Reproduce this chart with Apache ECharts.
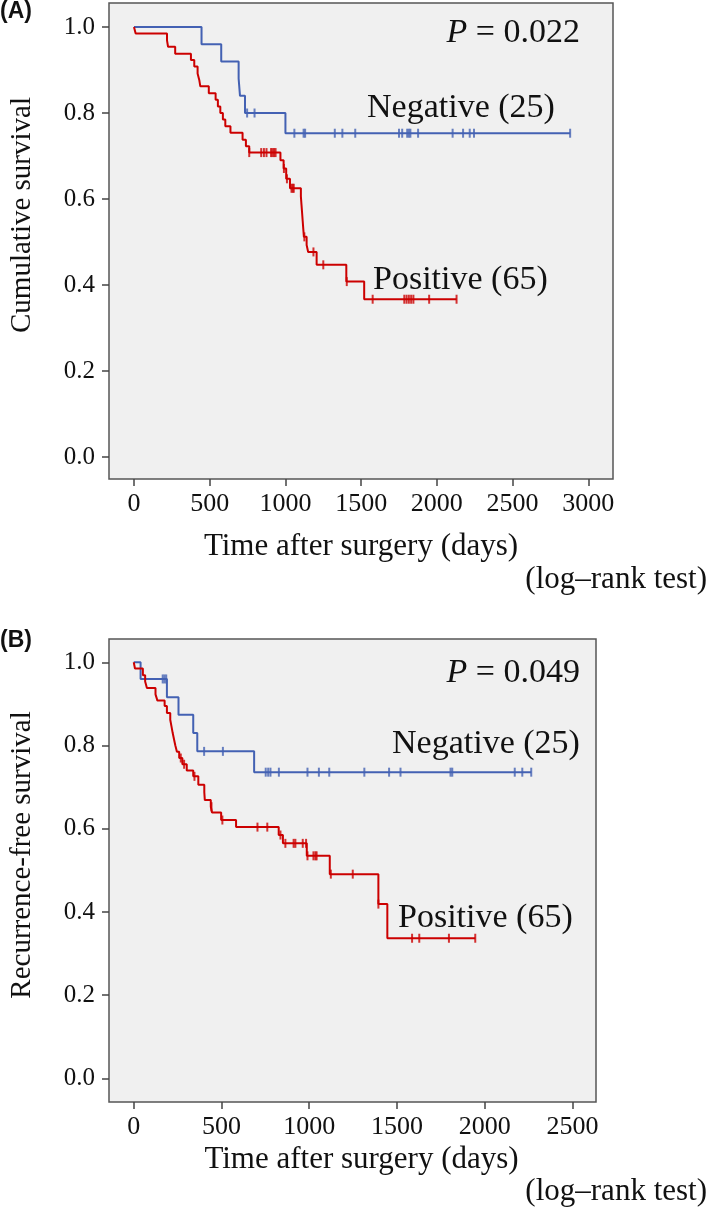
<!DOCTYPE html>
<html><head><meta charset="utf-8">
<script src="https://cdn.jsdelivr.net/npm/echarts@6/dist/echarts.min.js"></script>
<style>html,body{margin:0;padding:0;background:#fff}#c{width:709px;height:1217px}</style>
</head><body><div id="c"></div>
<script>
// ---------- Panel A: cumulative survival ----------
const aNegEventDays = [0, 446, 576, 691, 700, 733, 1000];
const aNegEventSurv = [1.0, 0.960, 0.920, 0.880, 0.840, 0.800, 0.753];
const aNegCensorDays = [747, 796, 1059, 1120, 1130, 1326, 1376, 1461, 1750, 1771, 1804, 1815, 1825, 1876, 2104, 2173, 2217, 2245, 2880];

const aPosEventDays = [0, 11, 218, 225, 272, 376, 398, 420, 431, 438, 494, 539, 554, 570, 587, 603, 637, 717, 739, 761, 967, 988, 1005, 1030, 1102, 1106, 1110, 1114, 1118, 1122, 1140, 1150, 1206, 1402, 1520];
const aPosEventSurv = [1.0, 0.985, 0.969, 0.954, 0.938, 0.923, 0.908, 0.892, 0.877, 0.862, 0.846, 0.831, 0.815, 0.800, 0.785, 0.769, 0.754, 0.738, 0.723, 0.708, 0.690, 0.671, 0.647, 0.625, 0.606, 0.587, 0.568, 0.549, 0.530, 0.512, 0.493, 0.477, 0.447, 0.408, 0.367];
const aPosCensorDays = [761, 840, 858, 875, 905, 915, 925, 935, 990, 1010, 1040, 1048, 1055, 1125, 1185, 1250, 1405, 1576, 1785, 1800, 1815, 1830, 1845, 1949, 2130];

// ---------- Panel B: recurrence-free survival ----------
const bNegEventDays = [0, 39, 189, 255, 339, 362, 686];
const bNegEventSurv = [1.0, 0.960, 0.916, 0.874, 0.830, 0.786, 0.736];
const bNegCensorDays = [165, 175, 185, 401, 508, 752, 766, 779, 827, 990, 1055, 1114, 1314, 1455, 1520, 1805, 1815, 2171, 2214, 2265];

const bPosEventDays = [0, 7, 52, 65, 75, 124, 135, 176, 189, 208, 215, 222, 230, 237, 246, 259, 277, 302, 339, 368, 402, 405, 439, 446, 498, 583, 826, 850, 986, 1117, 1394, 1445];
const bPosEventSurv = [1.0, 0.985, 0.969, 0.954, 0.938, 0.923, 0.908, 0.895, 0.878, 0.862, 0.846, 0.830, 0.814, 0.800, 0.785, 0.770, 0.755, 0.740, 0.726, 0.706, 0.688, 0.669, 0.653, 0.639, 0.621, 0.604, 0.585, 0.565, 0.535, 0.491, 0.419, 0.337];
const bPosCensorDays = [268, 287, 346, 443, 505, 705, 761, 836, 864, 911, 921, 963, 982, 990, 1024, 1035, 1042, 1123, 1248, 1394, 1586, 1627, 1796, 1946];

// ---------- axes ----------
const xTicksA = [0, 500, 1000, 1500, 2000, 2500, 3000];
const xTicksB = [0, 500, 1000, 1500, 2000, 2500];
const yTicks = [0, 0.2, 0.4, 0.6, 0.8, 1.0];

const groupLabels = ['Negative (25)', 'Positive (65)'];
const pValues = ['0.022', '0.049'];
const yTitles = ['Cumulative survival', 'Recurrence-free survival'];
const xTitle = 'Time after surgery (days)';

const BLUE = '#4361b3', RED = '#cc0000';
const SERIF = "'Liberation Serif', 'Times New Roman', serif";

function survAt(days, surv, t) {
  let s = surv[0];
  for (let i = 0; i < days.length; i++) if (days[i] <= t) s = surv[i];
  return s;
}
function stepLine(days, surv, cens) {
  const d = days.map((t, i) => [t, surv[i]]);
  const end = Math.max(days[days.length - 1], ...cens);
  d.push([end, survAt(days, surv, end)]);
  return d;
}
function censorPts(days, surv, cens) {
  return cens.map(t => [t, survAt(days, surv, t)]);
}

function lineSeries(idx, days, surv, cens, color) {
  return [{
    type: 'line', xAxisIndex: idx, yAxisIndex: idx, step: 'end', showSymbol: false,
    data: stepLine(days, surv, cens), lineStyle: { color, width: 2 }, silent: true, animation: false
  }, {
    type: 'scatter', xAxisIndex: idx, yAxisIndex: idx, symbol: 'rect', symbolSize: [2, 9],
    data: censorPts(days, surv, cens), itemStyle: { color }, silent: true, animation: false
  }];
}

function xAxis(idx, min, max, ticks, gap, pad) {
  return {
    gridIndex: idx, type: 'value', min, max,
    axisLine: { show: false, onZero: false }, splitLine: { show: false },
    axisTick: { show: true, customValues: ticks, length: 7, lineStyle: { color: '#444', width: 1.5 } },
    axisLabel: { customValues: ticks, formatter: v => String(v), fontFamily: SERIF, fontSize: 26, color: '#111', margin: 12 },
    name: xTitle, nameLocation: 'middle', nameGap: gap,
    nameTextStyle: { fontFamily: SERIF, fontSize: 31, color: '#111', padding: pad }
  };
}
function yAxis(idx, min, max, title, pad) {
  return {
    gridIndex: idx, type: 'value', min, max,
    axisLine: { show: false, onZero: false }, splitLine: { show: false },
    axisTick: { show: true, customValues: yTicks, length: 7, lineStyle: { color: '#444', width: 1.5 } },
    axisLabel: { customValues: yTicks, formatter: v => v.toFixed(1), fontFamily: SERIF, fontSize: 25, color: '#111', margin: 14 },
    name: title, nameLocation: 'middle', nameGap: 72,
    nameTextStyle: { fontFamily: SERIF, fontSize: 29, color: '#111', padding: pad }
  };
}

function txt(x, y, text, size, align, extra) {
  return {
    type: 'text', x, y, silent: true,
    style: Object.assign({ text, fontFamily: SERIF, fontSize: size, fill: '#111', align, verticalAlign: 'middle' }, extra || {})
  };
}
function pText(x, y, val) {
  return {
    type: 'text', x, y, silent: true,
    style: {
      text: '{i|P} = ' + val, fontFamily: SERIF, fontSize: 34, fill: '#111', align: 'right', verticalAlign: 'middle',
      rich: { i: { fontStyle: 'italic', fontFamily: SERIF, fontSize: 34, fill: '#111' } }
    }
  };
}

const SANS_BOLD = { fontFamily: "'Liberation Sans', Arial, sans-serif", fontWeight: 'bold' };
const chart = echarts.init(document.getElementById('c'), null, { renderer: 'canvas' });
chart.setOption({
  backgroundColor: '#fff',
  animation: false,
  grid: [
    { left: 103, top: 3, width: 510, height: 476, show: true, backgroundColor: '#f0f0f0', borderColor: '#555', borderWidth: 1.5 },
    { left: 103, top: 639, width: 493, height: 463, show: true, backgroundColor: '#f0f0f0', borderColor: '#555', borderWidth: 1.5 }
  ],
  xAxis: [xAxis(0, -165, 3163, xTicksA, 52, [0, 0, 0, 0]), xAxis(1, -141, 2634, xTicksB, 42, [0, 0, 0, 18])],
  yAxis: [yAxis(0, -0.051, 1.0558, yTitles[0], [0, 0, 0, 52]), yAxis(1, -0.0565, 1.056, yTitles[1], [0, 0, 0, 31])],
  series: [
    ...lineSeries(0, aNegEventDays, aNegEventSurv, aNegCensorDays, BLUE),
    ...lineSeries(0, aPosEventDays, aPosEventSurv, aPosCensorDays, RED),
    ...lineSeries(1, bNegEventDays, bNegEventSurv, bNegCensorDays, BLUE),
    ...lineSeries(1, bPosEventDays, bPosEventSurv, bPosCensorDays, RED)
  ],
  graphic: [
    txt(0, 12, '(A)', 23, 'left', SANS_BOLD),
    txt(0, 641, '(B)', 23, 'left', SANS_BOLD),
    pText(580, 33, pValues[0]),
    pText(580, 673, pValues[1]),
    txt(367, 108, groupLabels[0], 34, 'left'),
    txt(373, 280, groupLabels[1], 34, 'left'),
    txt(392, 744, groupLabels[0], 34, 'left'),
    txt(398, 918, groupLabels[1], 34, 'left'),
    txt(707, 580, '(log\u2013rank test)', 31, 'right'),
    txt(707, 1192, '(log\u2013rank test)', 31, 'right')
  ]
});
</script></body></html>
